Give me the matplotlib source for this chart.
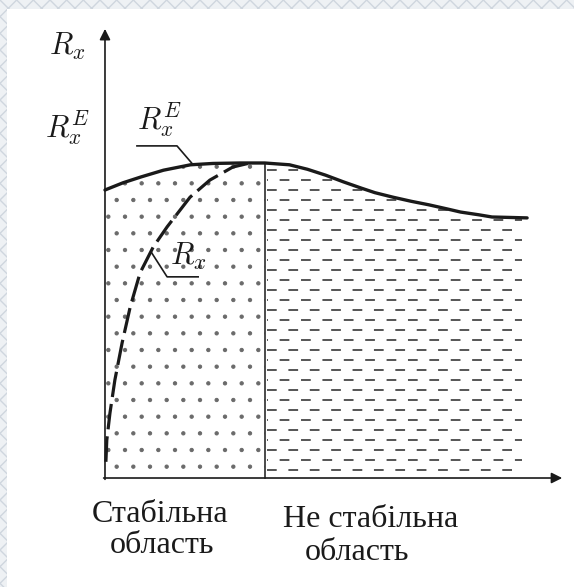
import numpy as np
import matplotlib.pyplot as plt
from matplotlib.patches import Rectangle, Polygon

plt.rcParams['mathtext.fontset'] = 'cm'

# diagram units, origin where the two axes cross
x_lim = (-2.333, 10.422)
y_lim = (-2.422, 10.622)

# boundary curve R_x^E
re_x = [0.0, 0.4, 0.8, 1.3, 1.9, 2.4, 3.0, 3.55, 4.1, 4.5, 4.9, 5.3, 5.7, 6.0, 6.4, 6.8, 7.2, 7.6, 7.9, 8.3, 8.6, 9.0, 9.38]
re_y = [6.40, 6.56, 6.69, 6.84, 6.96, 6.99, 7.0, 7.0, 6.96, 6.86, 6.73, 6.58, 6.44, 6.34, 6.24, 6.15, 6.07, 5.98, 5.91, 5.85, 5.80, 5.79, 5.78]

# curve R_x, stable branch
rx_x = [0.02, 0.04, 0.11, 0.22, 0.38, 0.56, 0.78, 1.07, 1.38, 1.89, 2.33, 2.84, 3.22]
rx_y = [0.36, 0.84, 1.44, 2.18, 3.00, 3.80, 4.56, 5.13, 5.58, 6.24, 6.62, 6.91, 7.00]

x_split = 3.55      # stable / unstable border
x_hatch_end = 9.27
x_axis_end = 10.16
y_axis_end = 9.98

ink = '#1a1a1a'

fig = plt.figure(figsize=(5.74, 5.87), dpi=100)

# page background with the lattice border
plt.rcParams['hatch.linewidth'] = 1.0
bg = fig.add_axes([0, 0, 1, 1])
bg.set_axis_off()
bg.add_patch(Rectangle((0, 0), 1, 1, facecolor='#eef1f4', edgecolor='#cfd6de',
                       hatch='xx', lw=0))
bg.add_patch(Rectangle((7 / 574, 0), 1, 1 - 9 / 587, facecolor='white', lw=0))

ax = fig.add_axes([0, 0, 1, 1])
ax.set_xlim(x_lim)
ax.set_ylim(y_lim)
ax.set_axis_off()
ax.patch.set_alpha(0)

# stable region: fine stipple
plt.rcParams['hatch.linewidth'] = 0.7
n_left = re_x.index(x_split) + 1
left_pts = list(zip(re_x[:n_left], re_y[:n_left])) + [(x_split, 0), (0, 0)]
ax.add_patch(Polygon(left_pts, closed=True, facecolor='none', edgecolor='#6a6a6a',
                     hatch='.', lw=0))

# unstable region: rows of short dashes
right_pts = list(zip(re_x[n_left - 1:], re_y[n_left - 1:])) + [(re_x[-1], 0), (x_split, 0)]
clip = Polygon(right_pts, closed=True, facecolor='none', lw=0)
ax.add_patch(clip)
for i, yy in enumerate(np.arange(0.18, 7.0, 0.222)):
    ln, = ax.plot([x_split + 0.06, x_hatch_end], [yy, yy], color='#555555', lw=1.4,
                  linestyle=(4.5 * (i % 2), (5.0, 6.0)), solid_capstyle='butt')
    ln.set_clip_path(clip)

# border between regions
ax.plot([x_split, x_split], [0, 7.0], color=ink, lw=1.1)

# curves
ax.plot(re_x, re_y, color=ink, lw=2.4, solid_capstyle='round', solid_joinstyle='round')
ax.plot(rx_x, rx_y, color=ink, lw=2.3, dashes=(8, 2.2), dash_capstyle='butt')

# axes with arrows
arrow = dict(arrowstyle='-|>', color=ink, lw=1.2, mutation_scale=16, shrinkA=0, shrinkB=0)
ax.annotate('', xy=(x_axis_end, 0), xytext=(-0.03, 0), arrowprops=arrow)
ax.annotate('', xy=(0, y_axis_end), xytext=(0, -0.03), arrowprops=arrow)

# leader lines
ax.plot([0.71, 1.6, 1.96], [7.38, 7.38, 6.96], color=ink, lw=1.2)
ax.plot([1.04, 1.38, 2.07], [5.0, 4.47, 4.47], color=ink, lw=1.2)

# labels
ax.text(-0.84, 9.58, r'$R_x$', fontsize=22, ha='center', va='center', color=ink)
ax.text(-0.84, 7.78, r'$R_x^E$', fontsize=22, ha='center', va='center', color=ink)
ax.text(1.22, 7.96, r'$R_x^E$', fontsize=22, ha='center', va='center', color=ink)
ax.text(1.84, 4.93, r'$R_x$', fontsize=22, ha='center', va='center', color=ink)

serif = dict(family='Liberation Serif', fontsize=23, ha='center', va='baseline', color=ink)
ax.text(1.23, -0.978, 'Стабільна', **serif)
ax.text(1.26, -1.667, 'область', **serif)
ax.text(5.91, -1.089, 'Не стабільна', **serif)
ax.text(5.61, -1.822, 'область', **serif)

fig.savefig('out.png', dpi=100)
